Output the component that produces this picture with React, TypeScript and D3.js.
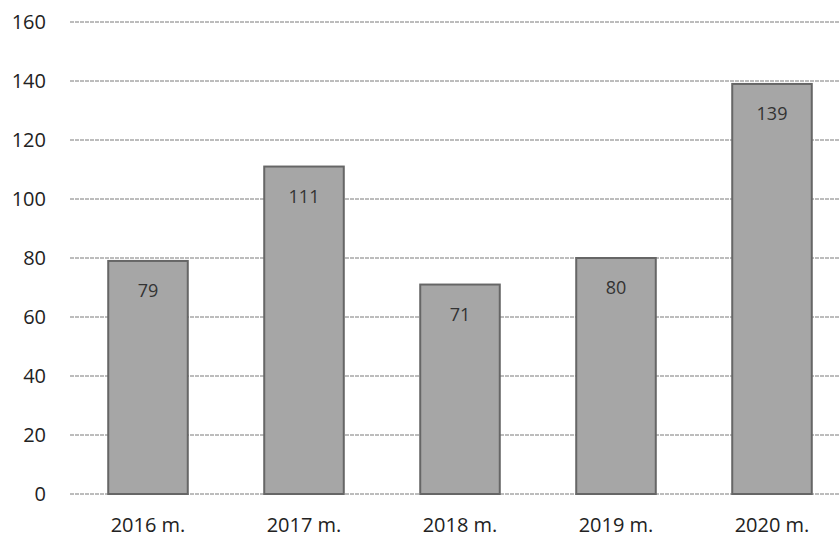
import React from "react";
import * as d3 from "d3";

const categories = ["2016 m.", "2017 m.", "2018 m.", "2019 m.", "2020 m."];
const values = [79, 111, 71, 80, 139];
const yTicks = [0, 20, 40, 60, 80, 100, 120, 140, 160];

const W = 839;
const H = 537;
const left = 70;
const right = 850;
const top = 22;
const bottom = 494;

export default function App() {
  const x = d3.scaleBand<string>().domain(categories).range([left, right]).paddingInner(0.49).paddingOuter(0.245);
  const y = d3.scaleLinear().domain([0, 160]).range([bottom, top]);
  const font = "'Open Sans', 'Noto Sans', sans-serif";
  return (
    <svg width={W} height={H} style={{ position: "absolute", left: 0, top: 0, background: "#fff" }}>
      {yTicks.map((t) => (
        <g key={t}>
          <line x1={left} x2={W} y1={y(t)} y2={y(t)} stroke="#7a7a7a" strokeWidth={1} strokeDasharray="4 1" />
          <text x={46} y={y(t)} dy="0.35em" textAnchor="end" fontFamily={font} fontSize={20} fill="#222">
            {t}
          </text>
        </g>
      ))}
      {categories.map((c, i) => {
        const x0 = x(c)!;
        const bw = x.bandwidth();
        return (
          <g key={c}>
            <rect x={x0} y={y(values[i])} width={bw} height={bottom - y(values[i])} fill="#a6a6a6" stroke="#666" strokeWidth={2} />
            <text x={x0 + bw / 2} y={y(values[i]) + 30} textAnchor="middle" dy="0.35em" fontFamily={font} fontSize={18} fill="#333">
              {values[i]}
            </text>
            <text x={x0 + bw / 2} y={525} textAnchor="middle" dy="0.35em" fontFamily={font} fontSize={20} fill="#222">
              {c}
            </text>
          </g>
        );
      })}
    </svg>
  );
}
